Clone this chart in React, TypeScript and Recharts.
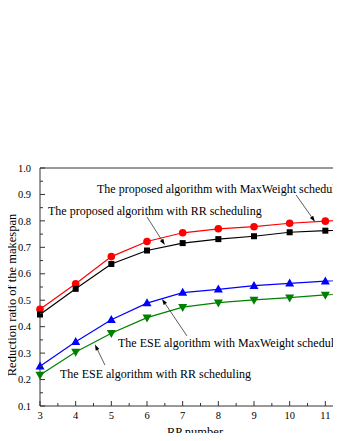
import { LineChart, Line, XAxis, YAxis, ReferenceLine } from 'recharts';

const rpNumbers = [3, 4, 5, 6, 7, 8, 9, 10, 11, 12];
const proposedMaxWeight = [0.466, 0.562, 0.665, 0.722, 0.755, 0.77, 0.778, 0.791, 0.799, 0.808];
const proposedRR = [0.446, 0.543, 0.637, 0.688, 0.716, 0.731, 0.742, 0.757, 0.763, 0.77];
const eseMaxWeight = [0.25, 0.343, 0.426, 0.489, 0.529, 0.541, 0.555, 0.564, 0.572, 0.58];
const eseRR = [0.217, 0.304, 0.375, 0.434, 0.474, 0.491, 0.501, 0.51, 0.52, 0.528];

const xTicks = [3, 3.5, 4, 4.5, 5, 5.5, 6, 6.5, 7, 7.5, 8, 8.5, 9, 9.5, 10, 10.5, 11, 11.5, 12];
const yTicks = [0.1, 0.15, 0.2, 0.25, 0.3, 0.35, 0.4, 0.45, 0.5, 0.55, 0.6, 0.65, 0.7, 0.75, 0.8, 0.85, 0.9, 0.95, 1.0];

const data = rpNumbers.map((rp, i) => ({
  rp,
  proposedMaxWeight: proposedMaxWeight[i],
  proposedRR: proposedRR[i],
  eseMaxWeight: eseMaxWeight[i],
  eseRR: eseRR[i],
}));

// layout
const W = 361;
const H = 441;
const LEFT = 40;
const TOP = 168;
const BOTTOM = 406;
const X_MIN = 3;
const X_MAX = 12;
const Y_MIN = 0.1;
const Y_MAX = 1.0;
const FONT = '"Liberation Serif", "Times New Roman", serif';

const px = (v: number) => LEFT + ((v - X_MIN) / (X_MAX - X_MIN)) * (W - LEFT);
const py = (v: number) => BOTTOM - ((v - Y_MIN) / (Y_MAX - Y_MIN)) * (BOTTOM - TOP);

// arrows: tail -> head, in data units
const annotations = [
  { text: 'The proposed algorithm with MaxWeight scheduling', tx: 97, ty: 193, from: [10.18, 0.898], to: [10.71, 0.797] },
  { text: 'The proposed algorithm with RR scheduling', tx: 48, ty: 215, from: [6.0, 0.815], to: [6.5, 0.709] },
  { text: 'The ESE algorithm with MaxWeight scheduling', tx: 118, ty: 347, from: [7.12, 0.365], to: [6.42, 0.505] },
  { text: 'The ESE algorithm with RR scheduling', tx: 60, ty: 378, from: [4.82, 0.255], to: [4.54, 0.333] },
];

const isMajor = (v: number, step: number) => Math.abs(v / step - Math.round(v / step)) < 1e-6;

const YTick = (props: any) => {
  const { x, y, payload } = props;
  const major = isMajor(payload.value, 0.1);
  const ax = x + 9;
  return (
    <g>
      <line x1={ax} x2={ax + (major ? 5 : 3)} y1={y} y2={y} stroke="#333" />
      {major && (
        <text x={x} y={y} dy="0.35em" textAnchor="end" fontFamily={FONT} fontSize={10.5} fill="#000">
          {payload.value.toFixed(1)}
        </text>
      )}
    </g>
  );
};

const XTick = (props: any) => {
  const { x, y, payload } = props;
  const major = isMajor(payload.value, 1);
  const ay = y - 4;
  return (
    <g>
      <line x1={x} x2={x} y1={ay} y2={ay - (major ? 5 : 3)} stroke="#333" />
      {major && x < 345 && (
        <text x={x} y={ay + 13} textAnchor="middle" fontFamily={FONT} fontSize={10.5} fill="#000">
          {payload.value}
        </text>
      )}
    </g>
  );
};

const circleDot = (p: any) => <circle key={p.key} cx={p.cx} cy={p.cy} r={3.8} fill="#ff0000" />;
const squareDot = (p: any) => <rect key={p.key} x={p.cx - 3} y={p.cy - 3} width={6} height={6} fill="#000" />;
const upDot = (p: any) => (
  <polygon key={p.key} points={`${p.cx},${p.cy - 4.8} ${p.cx - 4.5},${p.cy + 3.2} ${p.cx + 4.5},${p.cy + 3.2}`} fill="#0000ff" />
);
const downDot = (p: any) => (
  <polygon key={p.key} points={`${p.cx},${p.cy + 4.8} ${p.cx - 4.5},${p.cy - 3.2} ${p.cx + 4.5},${p.cy - 3.2}`} fill="#008000" />
);

function Arrow({ from, to }: { from: number[]; to: number[] }) {
  const x1 = px(from[0]);
  const y1 = py(from[1]);
  const x2 = px(to[0]);
  const y2 = py(to[1]);
  const ang = Math.atan2(y2 - y1, x2 - x1);
  const len = 6;
  const half = 2;
  const bx = x2 - len * Math.cos(ang);
  const by = y2 - len * Math.sin(ang);
  const nx = -Math.sin(ang) * half;
  const ny = Math.cos(ang) * half;
  return (
    <g>
      <line x1={x1} y1={y1} x2={bx} y2={by} stroke="#333" strokeWidth={0.8} />
      <polygon points={`${x2},${y2} ${bx + nx},${by + ny} ${bx - nx},${by - ny}`} fill="#000" />
    </g>
  );
}

export default function App() {
  return (
    <div style={{ margin: -8, width: 341, height: 441, overflow: 'hidden', position: 'relative', background: '#fff' }}>
      <LineChart width={W} height={H} data={data} margin={{ top: TOP, right: 0, bottom: 0, left: 0 }}>
        <XAxis
          dataKey="rp"
          type="number"
          domain={[X_MIN, X_MAX]}
          ticks={xTicks}
          interval={0}
          height={H - BOTTOM}
          tickLine={false}
          tickSize={0}
          tickMargin={4}
          tick={<XTick />}
          axisLine={{ stroke: '#333' }}
        />
        <YAxis
          type="number"
          domain={[Y_MIN, Y_MAX]}
          ticks={yTicks}
          interval={0}
          width={LEFT}
          tickLine={false}
          tickSize={0}
          tickMargin={9}
          tick={<YTick />}
          axisLine={{ stroke: '#333' }}
        />
        <ReferenceLine y={Y_MAX} stroke="#333" />
        <Line dataKey="proposedMaxWeight" stroke="#ff0000" strokeWidth={1.2} dot={circleDot} activeDot={false} isAnimationActive={false} />
        <Line dataKey="proposedRR" stroke="#000" strokeWidth={1.2} dot={squareDot} activeDot={false} isAnimationActive={false} />
        <Line dataKey="eseMaxWeight" stroke="#0000ff" strokeWidth={1.2} dot={upDot} activeDot={false} isAnimationActive={false} />
        <Line dataKey="eseRR" stroke="#008000" strokeWidth={1.2} dot={downDot} activeDot={false} isAnimationActive={false} />
      </LineChart>
      <svg width={W} height={H} style={{ position: 'absolute', left: 0, top: 0, pointerEvents: 'none' }}>
        {annotations.map((a) => (
          <g key={a.text}>
            <text x={a.tx} y={a.ty} fontFamily={FONT} fontSize={12} fill="#000">
              {a.text}
            </text>
            <Arrow from={a.from} to={a.to} />
          </g>
        ))}
        <text
          transform="translate(16, 295) rotate(-90)"
          textAnchor="middle"
          fontFamily={FONT}
          fontSize={12.5}
          fill="#000"
        >
          Reduction ratio of the makespan
        </text>
        <text x={195} y={436} textAnchor="middle" fontFamily={FONT} fontSize={12.5} fill="#000">
          RP number
        </text>
      </svg>
    </div>
  );
}
